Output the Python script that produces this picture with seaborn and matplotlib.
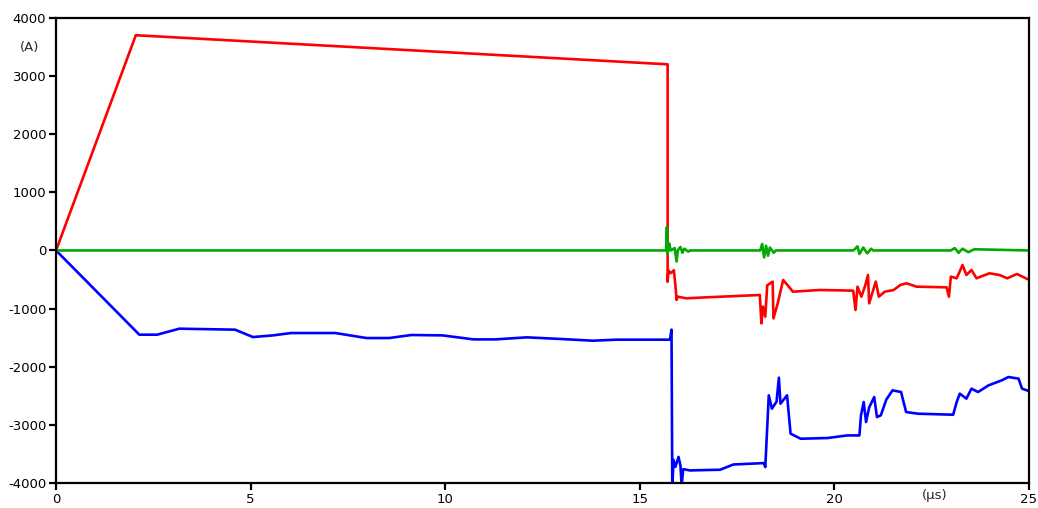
import numpy as np
import pandas as pd
import seaborn as sns
import matplotlib
matplotlib.use("Agg")
import matplotlib.pyplot as plt

# time in microseconds, current in amperes
red_t = [0, 2.05, 15.72, 15.72, 15.74, 15.78, 15.82, 15.88, 15.92, 15.95, 15.98, 16.2, 16.72,
         18.09, 18.13, 18.17, 18.23, 18.28, 18.42, 18.44, 18.55, 18.69, 18.8, 18.94, 19.63,
         20.49, 20.55, 20.6, 20.7, 20.8, 20.87, 20.9, 21.07, 21.15, 21.3, 21.53, 21.7, 21.86,
         22.12, 22.89, 22.95, 23.0, 23.15, 23.3, 23.4, 23.53, 23.66, 23.99, 24.25, 24.45,
         24.7, 24.98]
red_i = [0, 3700, 3200, -540, -340, -390, -380, -340, -600, -850, -795, -823, -806,
         -766, -1254, -967, -1139, -600, -536, -1168, -909, -508, -594, -709, -680,
         -691, -1024, -623, -795, -600, -422, -909, -536, -795, -709, -680, -594, -565,
         -623, -634, -795, -450, -479, -250, -422, -336, -479, -393, -422, -479,
         -405, -496]

blue_t = [0, 2.14, 2.6, 3.17, 4.6, 5.06, 5.58, 6.04, 7.18, 7.98, 8.56, 9.13, 9.93, 10.73,
          11.3, 12.1, 13.0, 13.8, 14.4, 15.78, 15.82, 15.84, 15.87, 15.92, 16.0, 16.05,
          16.08, 16.12, 16.29, 17.07, 17.41, 18.19, 18.23, 18.32, 18.4, 18.52, 18.58, 18.62,
          18.79, 18.88, 19.14, 19.83, 20.34, 20.65, 20.69, 20.76, 20.82, 20.9, 21.03, 21.1,
          21.2, 21.34, 21.5, 21.72, 21.85, 22.16, 23.06, 23.15, 23.23, 23.4, 23.53, 23.7,
          23.97, 24.31, 24.48, 24.74, 24.83, 25.0]
blue_i = [0, -1448, -1448, -1345, -1362, -1489, -1460, -1420, -1420, -1506, -1506, -1454,
          -1460, -1529, -1529, -1494, -1523, -1552, -1534, -1534, -1362, -4100, -3600,
          -3720, -3550, -3700, -4050, -3760, -3782, -3770, -3680, -3656, -3725, -2491,
          -2720, -2600, -2187, -2635, -2491, -3150, -3237, -3225, -3180, -3180, -2835,
          -2606, -2950, -2700, -2520, -2864, -2835, -2566, -2405, -2434, -2778, -2807,
          -2824, -2606, -2462, -2548, -2376, -2434, -2319, -2233, -2176, -2204, -2376, -2416]

green_t = [0, 15.68, 15.7, 15.72, 15.76, 15.8, 15.9, 15.95, 15.98, 16.05, 16.1, 16.15, 16.25,
           16.3, 18.1, 18.15, 18.2, 18.25, 18.3, 18.35, 18.45, 18.5, 20.5, 20.6, 20.65, 20.75,
           20.85, 20.95, 21.0, 23.0, 23.1, 23.2, 23.3, 23.45, 23.6, 25.0]
green_i = [0, 0, 400, -60, 120, 0, 40, -190, 0, 60, -40, 30, -20,
           0, 0, 110, -120, 80, -90, 50, -40, 0, 0, 70, -60, 50,
           -50, 30, 0, 0, 40, -40, 30, -30, 20, 0]

sns.set_style("white")
plt.rcParams["font.family"] = ["DejaVu Sans"]
plt.rcParams["axes.unicode_minus"] = False

df = pd.concat([
    pd.DataFrame({"t": red_t, "i": red_i, "s": "red"}),
    pd.DataFrame({"t": blue_t, "i": blue_i, "s": "blue"}),
    pd.DataFrame({"t": green_t, "i": green_i, "s": "green"}),
])
palette = {"red": "#ff0000", "blue": "#0000ff", "green": "#00aa00"}

fig = plt.figure(figsize=(10.38, 5.08), dpi=100)
ax = fig.add_axes([0.054, 0.049, 0.937, 0.916])
sns.lineplot(data=df, x="t", y="i", hue="s", palette=palette, estimator=None,
             sort=False, legend=False, linewidth=1.9, ax=ax)

ax.set_xlim(0, 25)
ax.set_ylim(-4000, 4000)
ax.set_xticks(range(0, 26, 5))
ax.set_yticks(range(-4000, 4001, 1000))
ax.set_xlabel("")
ax.set_ylabel("")
for sp in ax.spines.values():
    sp.set_color("black")
    sp.set_linewidth(1.6)
ax.tick_params(direction="out", length=5, width=1.6, labelsize=9.5, colors="black",
               left=True, bottom=True, pad=2)
ax.annotate("(A)", xy=(-0.027, 3490), xycoords=("axes fraction", "data"),
            ha="center", va="center", fontsize=9.5)
ax.annotate("(µs)", xy=(22.58, -0.026), xycoords=("data", "axes fraction"),
            ha="center", va="center", fontsize=9.5)

fig.savefig("out.png", dpi=100)
